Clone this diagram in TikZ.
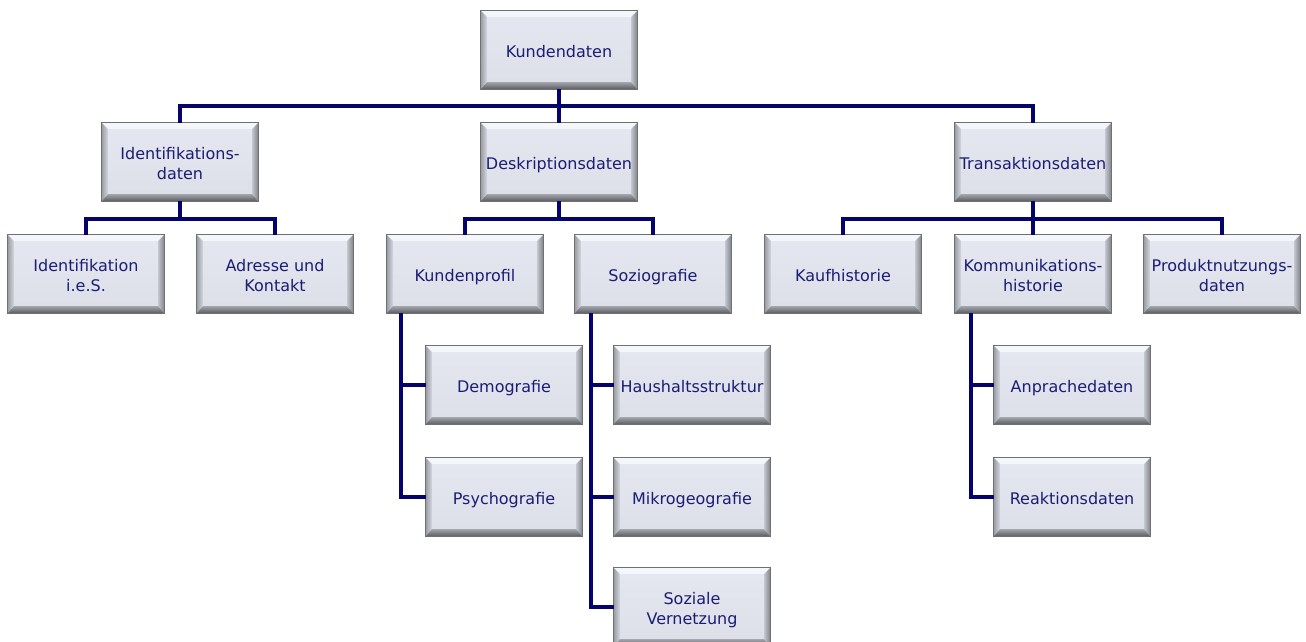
\documentclass[tikz,border=0pt]{standalone}
\usepackage{fontspec}
\setmainfont{DejaVu Sans}
\usetikzlibrary{calc,backgrounds}
\definecolor{face}{HTML}{DDE0E9}
\definecolor{facetop}{HTML}{E4E7EF}
\definecolor{ink}{HTML}{1C1C74}
\definecolor{wire}{HTML}{04046C}
\definecolor{bevtop}{HTML}{F5F6F9}
\definecolor{bevleft}{HTML}{9C9EA4}
\definecolor{bevright}{HTML}{82848A}
\definecolor{bevbot}{HTML}{5A5C60}
\definecolor{rim}{HTML}{6E7074}
\tikzset{
  x=1pt, y=-1pt,
  box/.style={rectangle, minimum width=156pt, minimum height=78pt, inner sep=0pt,
    text=ink, font=\fontsize{16}{20}\selectfont},
  conn/.style={draw=wire, line width=4pt},
}
% bevelled box: name, x, y, text
\newcommand\bevelbox[4]{%
  \node[box] (#1) at (#2,#3)
    {\raisebox{-3pt}[\height][\depth]{\begin{tabular}{@{}c@{}}#4\end{tabular}}};
  \begin{pgfonlayer}{background}
    \shade[top color=facetop, bottom color=face]
      ($(#1.north west)+(6,6)$) rectangle ($(#1.south east)+(-6,-7)$);
    \fill[bevtop] (#1.north west) -- (#1.north east) -- ($(#1.north east)+(-6,6)$)
      -- ($(#1.north west)+(6,6)$) -- cycle;
    \shade[left color=bevleft, right color=face!85!bevleft]
      (#1.north west) -- ($(#1.north west)+(6,6)$) -- ($(#1.south west)+(6,-7)$)
      -- (#1.south west) -- cycle;
    \shade[left color=face!70!bevright, right color=bevright]
      (#1.north east) -- ($(#1.north east)+(-6,6)$) -- ($(#1.south east)+(-6,-7)$)
      -- (#1.south east) -- cycle;
    \shade[top color=face!55!bevbot, bottom color=bevbot]
      (#1.south west) -- ($(#1.south west)+(6,-7)$) -- ($(#1.south east)+(-6,-7)$)
      -- (#1.south east) -- cycle;
    \draw[rim, line width=0.8pt] (#1.north west) rectangle (#1.south east);
  \end{pgfonlayer}
}
\begin{document}
\begin{tikzpicture}
\useasboundingbox (0,0) rectangle (1306,641);
\clip (0,0) rectangle (1306,641);

% top level
\bevelbox{kd}{559}{50}{Kundendaten}

% second level
\bevelbox{idd}{180}{162}{Identifikations-\\daten}
\bevelbox{dsd}{559}{162}{Deskriptionsdaten}
\bevelbox{trd}{1033}{162}{Transaktionsdaten}

% third level
\bevelbox{ies}{86}{274}{Identifikation\\i.e.S.}
\bevelbox{adk}{275}{274}{Adresse und\\Kontakt}
\bevelbox{kpr}{465}{274}{Kundenprofil}
\bevelbox{soz}{653}{274}{Soziografie}
\bevelbox{kau}{843}{274}{Kaufhistorie}
\bevelbox{kom}{1033}{274}{Kommunikations-\\historie}
\bevelbox{pnd}{1222}{274}{Produktnutzungs-\\daten}

% fourth level
\bevelbox{dem}{504}{385}{Demografie}
\bevelbox{psy}{504}{497}{Psychografie}
\bevelbox{hhs}{692}{385}{Haushaltsstruktur}
\bevelbox{mik}{692}{497}{Mikrogeografie}
\bevelbox{svn}{692}{607}{Soziale\\Vernetzung}
\bevelbox{anp}{1072}{385}{Anprachedaten}
\bevelbox{rea}{1072}{497}{Reaktionsdaten}

% connectors: top bus
\draw[conn] (kd.south) -- (dsd.north);
\draw[conn] (idd.north) -- ++(0,-17) -| (trd.north);

% connectors: second level buses
\draw[conn] (idd.south) -- ++(0,18);
\draw[conn] (ies.north) -- ++(0,-16) -| (adk.north);
\draw[conn] (dsd.south) -- ++(0,18);
\draw[conn] (kpr.north) -- ++(0,-16) -| (soz.north);
\draw[conn] (trd.south) -- ++(0,18);
\draw[conn] (kau.north) -- ++(0,-16) -| (pnd.north);
\draw[conn] (trd.south) -- (kom.north);

% connectors: vertical branches
\draw[conn] ($(kpr.south west)+(14,0)$) |- (psy.west);
\draw[conn] ($(kpr.south west)+(14,0)$) |- (dem.west);
\draw[conn] ($(soz.south west)+(16,0)$) |- (svn.west);
\draw[conn] ($(soz.south west)+(16,0)$) |- (mik.west);
\draw[conn] ($(soz.south west)+(16,0)$) |- (hhs.west);
\draw[conn] ($(kom.south west)+(16,0)$) |- (rea.west);
\draw[conn] ($(kom.south west)+(16,0)$) |- (anp.west);
\end{tikzpicture}
\end{document}
